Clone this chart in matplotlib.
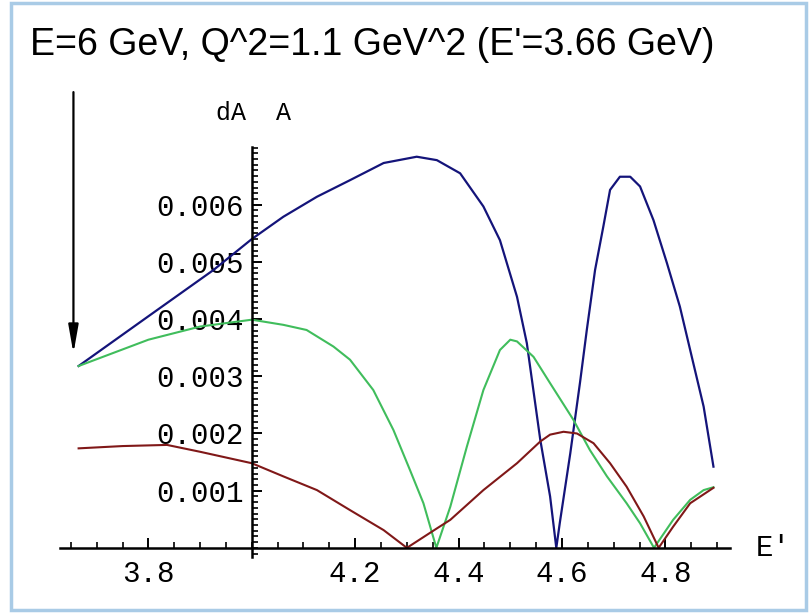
import matplotlib
matplotlib.use("Agg")
import matplotlib.pyplot as plt
from matplotlib.patches import Rectangle
from matplotlib.ticker import FixedLocator, MultipleLocator

# ---------------- data ----------------
blue_x = [3.665, 3.80, 3.926, 4.0, 4.061, 4.126, 4.19, 4.255, 4.319, 4.358, 4.403,
          4.448, 4.48, 4.513, 4.532, 4.558, 4.577, 4.589, 4.596, 4.616, 4.635, 4.648,
          4.664, 4.680, 4.693, 4.712, 4.732, 4.751, 4.777, 4.803, 4.828, 4.854, 4.874, 4.893]
blue_y = [3.18, 4.05, 4.86, 5.40, 5.79, 6.14, 6.43, 6.73, 6.84, 6.78, 6.55,
          5.97, 5.38, 4.39, 3.58, 1.89, 0.90, 0.0, 0.45, 1.65, 2.90, 3.81,
          4.86, 5.62, 6.26, 6.49, 6.49, 6.32, 5.73, 4.98, 4.22, 3.23, 2.47, 1.42]

green_x = [3.665, 3.80, 3.90, 4.0, 4.061, 4.106, 4.158, 4.19, 4.235, 4.274, 4.306,
           4.332, 4.357, 4.384, 4.416, 4.448, 4.48, 4.50, 4.513, 4.545, 4.577, 4.622,
           4.654, 4.687, 4.725, 4.751, 4.778, 4.815, 4.848, 4.874, 4.893]
green_y = [3.18, 3.64, 3.87, 3.99, 3.90, 3.81, 3.52, 3.29, 2.76, 2.06, 1.36,
           0.78, 0.0, 0.72, 1.77, 2.76, 3.46, 3.64, 3.61, 3.34, 2.88, 2.24,
           1.71, 1.25, 0.78, 0.43, 0.0, 0.49, 0.84, 1.01, 1.06]

red_x = [3.665, 3.75, 3.836, 3.90, 4.0, 4.061, 4.126, 4.19, 4.255, 4.30, 4.358,
         4.384, 4.448, 4.513, 4.558, 4.577, 4.603, 4.629, 4.661, 4.693, 4.725,
         4.758, 4.787, 4.815, 4.848, 4.893]
red_y = [1.74, 1.78, 1.80, 1.68, 1.48, 1.25, 1.01, 0.66, 0.31, 0.0, 0.34,
         0.49, 1.01, 1.48, 1.86, 1.98, 2.03, 2.00, 1.83, 1.48, 1.07,
         0.55, 0.0, 0.37, 0.78, 1.05]

scale = 1e-3  # values above read in units of 0.001

x_ticks = [3.8, 4.2, 4.4, 4.6, 4.8]
x_tick_labels = ["3.8", "4.2", "4.4", "4.6", "4.8"]
y_ticks = [0.001, 0.002, 0.003, 0.004, 0.005, 0.006]
y_tick_labels = ["0.001", "0.002", "0.003", "0.004", "0.005", "0.006"]

E_kin = 3.655          # E' = 3.66 GeV marker
arrow_top = 0.00797
arrow_tip = 0.00340

title = "E=6 GeV, Q^2=1.1 GeV^2 (E'=3.66 GeV)"

# ---------------- figure ----------------
W, H = 810, 613
fig = plt.figure(figsize=(W / 100, H / 100), dpi=100)
fig.patch.set_facecolor("white")

# light blue frame
fig.patches.append(Rectangle((11 / W, 3 / H), 795 / W, 607 / H, transform=fig.transFigure,
                             fill=False, edgecolor="#a9cbe6", lw=2.5))

ax = fig.add_axes([60 / W, 1 - 557 / H, 670 / W, 410 / H])
ax.set_xlim(3.629, 4.925)
ax.set_ylim(-0.00016, 0.00701)
ax.patch.set_alpha(0)

ax.plot(blue_x, [v * scale for v in blue_y], color="#14147a", lw=1.6, solid_joinstyle="round")
ax.plot(green_x, [v * scale for v in green_y], color="#40bd5c", lw=1.5, solid_joinstyle="round")
ax.plot(red_x, [v * scale for v in red_y], color="#801818", lw=1.5, solid_joinstyle="round")

# axes through origin (4.0, 0)
for s in ["top", "right"]:
    ax.spines[s].set_visible(False)
ax.spines["left"].set_position(("data", 4.0))
ax.spines["bottom"].set_position(("data", 0.0))
ax.spines["left"].set_linewidth(1.8)
ax.spines["bottom"].set_linewidth(1.8)

mono = ["Liberation Mono", "DejaVu Sans Mono"]

ax.xaxis.set_major_locator(FixedLocator(x_ticks))
ax.set_xticklabels(x_tick_labels, fontfamily=mono, fontsize=21)
ax.xaxis.set_minor_locator(MultipleLocator(0.05))
ax.yaxis.set_major_locator(FixedLocator(y_ticks))
ax.set_yticklabels(y_tick_labels, fontfamily=mono, fontsize=21)
ax.yaxis.set_minor_locator(MultipleLocator(0.0001))
ax.tick_params(axis="both", which="major", direction="in", length=7, width=1.4, pad=6)
ax.tick_params(axis="both", which="minor", direction="in", length=4, width=1.2)
ax.tick_params(axis="x", which="major", pad=9)

# axis labels
ax.text(4.925 + 0.083, 0.0, "E'", fontfamily=mono, fontsize=21, ha="center", va="center",
        transform=ax.transData, clip_on=False)
fig.text(253 / W, 1 - 113 / H, "dA  A", fontfamily=mono, fontsize=18, ha="center", va="center")

# arrow at E' kinematics
ax.annotate("", xy=(E_kin, arrow_tip), xytext=(E_kin, arrow_top), xycoords="data",
            textcoords="data", annotation_clip=False,
            arrowprops=dict(arrowstyle="-|>,head_length=1.7,head_width=0.3", color="black",
                            lw=1.6, shrinkA=0, shrinkB=0))

fig.text(30 / W, 1 - 45 / H, title, fontfamily=["Liberation Sans", "DejaVu Sans"],
         fontsize=27, ha="left", va="center")

fig.savefig("out.png", dpi=100)
